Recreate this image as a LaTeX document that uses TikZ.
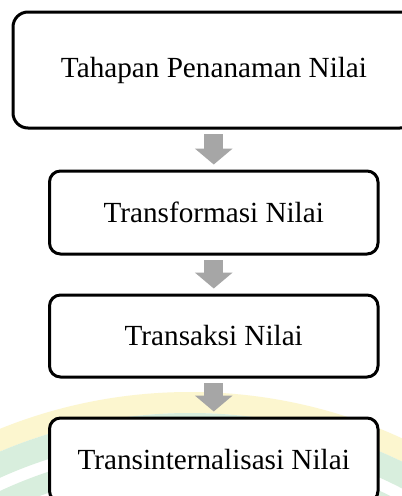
\documentclass[tikz,border=0pt]{standalone}
\usepackage{fontspec}
\setmainfont{Liberation Serif}
\usetikzlibrary{arrows.meta}
\definecolor{arrowgray}{HTML}{A6A6A6}
\definecolor{wmyellow}{HTML}{FCF6CF}
\definecolor{wmgreen}{HTML}{D8EEDD}
\tikzset{
  stepbox/.style={draw=black, line width=3pt, rounded corners=11pt, fill=white,
    font=\fontsize{29.2}{34}\selectfont, inner sep=0pt, align=center},
  flowarrow/.style={draw=arrowgray, line width=19pt,
    -{Triangle[length=16pt,width=37pt,fill=arrowgray]},
    shorten <=4.5pt, shorten >=5pt},
  wmring/.style={line width=#1}
}
\begin{document}
\begin{tikzpicture}[x=1pt,y=-1pt]
\useasboundingbox (0,0) rectangle (402,496);
\clip (0,0) rectangle (402,496);
\fill[white] (0,0) rectangle (402,496);
% faint watermark arcs
\draw[wmyellow, wmring=21pt] (190,899) circle[radius=496.5];
\draw[wmgreen, wmring=24pt] (190,899) circle[radius=474];
\draw[wmgreen, wmring=20pt] (190,899) circle[radius=440];
% boxes
\node[stepbox, rounded corners=15pt, minimum width=402pt, minimum height=116pt] (b1) at (214,70) {Tahapan Penanaman Nilai};
\node[stepbox, minimum width=328.5pt, minimum height=83pt] (b2) at (213.75,212.5) {Transformasi Nilai};
\node[stepbox, minimum width=328.5pt, minimum height=82pt] (b3) at (213.75,336) {Transaksi Nilai};
\node[stepbox, minimum width=328.5pt, minimum height=84pt] (b4) at (213.75,460) {Transinternalisasi Nilai};
% arrows
\draw[flowarrow] (b1.south -| b2.north) -- (b2.north);
\draw[flowarrow] (b2.south) -- (b3.north);
\draw[flowarrow] (b3.south) -- (b4.north);
\end{tikzpicture}
\end{document}
